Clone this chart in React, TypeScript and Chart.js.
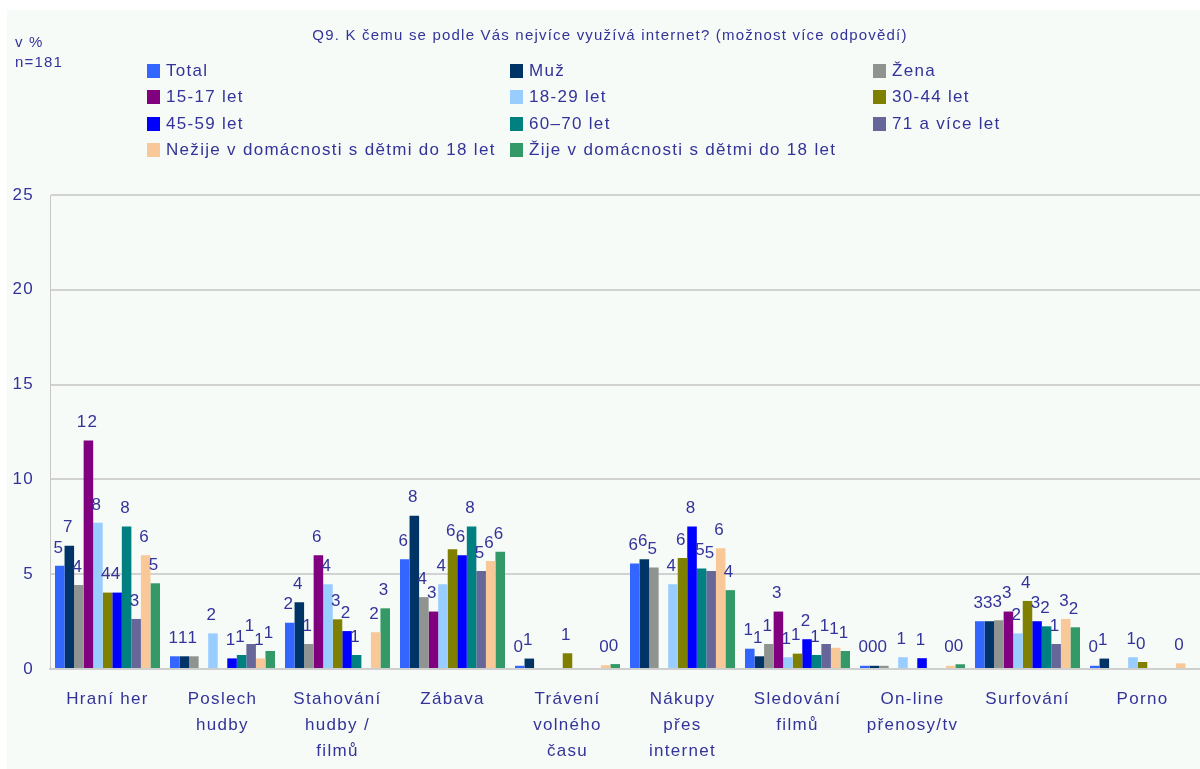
import React, { useEffect, useRef } from "react";
import { Chart, registerables } from "chart.js";

Chart.register(...registerables);

const categories: string[][] = [
  ["Hraní her"],
  ["Poslech", "hudby"],
  ["Stahování", "hudby /", "filmů"],
  ["Zábava"],
  ["Trávení", "volného", "času"],
  ["Nákupy", "přes", "internet"],
  ["Sledování", "filmů"],
  ["On-line", "přenosy/tv"],
  ["Surfování"],
  ["Porno"],
];

const seriesNames = [
  "Total",
  "Muž",
  "Žena",
  "15-17 let",
  "18-29 let",
  "30-44 let",
  "45-59 let",
  "60–70 let",
  "71 a více let",
  "Nežije v domácnosti s dětmi do 18 let",
  "Žije v domácnosti s dětmi do 18 let",
];

const seriesColors = [
  "#3366FF",
  "#003366",
  "#8F9490",
  "#800080",
  "#99CCFF",
  "#808000",
  "#0000FF",
  "#008080",
  "#666699",
  "#F8C898",
  "#339966",
];

const total = [5.44, 0.67, 2.44, 5.79, 0.17, 5.56, 1.07, 0.17, 2.52, 0.17];
const muz = [6.5, 0.67, 3.52, 8.08, 0.55, 5.79, 0.67, 0.17, 2.52, 0.55];
const zena = [4.43, 0.67, 1.32, 3.79, null, 5.35, 1.32, 0.17, 2.57, null];
const age15_17 = [12.05, null, 6.0, 3.03, null, null, 3.03, null, 3.03, null];
const age18_29 = [7.71, 1.88, 4.47, 4.47, null, 4.47, 0.62, 0.62, 1.88, 0.62];
const age30_44 = [4.03, null, 2.62, 6.32, 0.83, 5.86, 0.81, null, 3.59, 0.37];
const age45_59 = [4.03, 0.56, 2.0, 6.0, null, 7.52, 1.57, 0.57, 2.52, null];
const age60_70 = [7.51, 0.74, 0.74, 7.52, null, 5.3, 0.74, null, 2.25, null];
const age71 = [2.64, 1.32, null, 5.17, null, 5.17, 1.32, null, 1.32, null];
const noKids = [6.0, 0.56, 1.94, 5.7, 0.2, 6.37, 1.12, 0.17, 2.64, 0.3];
const withKids = [4.52, 0.95, 3.2, 6.18, 0.26, 4.16, 0.95, 0.25, 2.2, null];

const seriesValues = [
  total,
  muz,
  zena,
  age15_17,
  age18_29,
  age30_44,
  age45_59,
  age60_70,
  age71,
  noKids,
  withKids,
];

const yTicks = [0, 5, 10, 15, 20, 25];

const TEXT = "#333399";
const FONT = '"Liberation Sans", Arial, sans-serif';
const LS = "1.3px";

const letterSpacingPlugin = {
  id: "letterSpacing",
  beforeUpdate(chart: any) {
    chart.ctx.letterSpacing = LS;
  },
  beforeDraw(chart: any) {
    chart.ctx.letterSpacing = LS;
  },
};

const valueLabels = {
  id: "valueLabels",
  afterDatasetsDraw(chart: any) {
    const ctx = chart.ctx;
    ctx.save();
    ctx.font = `17px ${FONT}`;
    ctx.fillStyle = TEXT;
    ctx.textAlign = "center";
    ctx.textBaseline = "middle";
    ctx.letterSpacing = LS;
    chart.data.datasets.forEach((ds: any, i: number) => {
      const meta = chart.getDatasetMeta(i);
      meta.data.forEach((bar: any, j: number) => {
        const v = ds.data[j];
        if (v === null || v === undefined) return;
        ctx.fillText(String(Math.round(v)), bar.x - 1, bar.y - 18);
      });
    });
    ctx.restore();
  },
};

export default function App() {
  const canvasRef = useRef<HTMLCanvasElement | null>(null);

  useEffect(() => {
    if (!canvasRef.current) return;
    const chart = new Chart(canvasRef.current, {
      type: "bar",
      data: {
        labels: categories,
        datasets: seriesNames.map((name, i) => ({
          label: name,
          data: seriesValues[i],
          backgroundColor: seriesColors[i],
          borderWidth: 0,
          categoryPercentage: 0.913,
          barPercentage: 1.0,
        })),
      },
      options: {
        animation: false,
        responsive: false,
        devicePixelRatio: 1,
        layout: { padding: { left: 0, top: 195, right: 0, bottom: 0 } },
        plugins: {
          legend: { display: false },
          title: { display: false },
          tooltip: { enabled: false },
        },
        scales: {
          x: {
            grid: { display: false, drawTicks: false },
            border: { display: true, color: "#CFCFCF", width: 2 },
            ticks: {
              color: TEXT,
              font: { family: FONT, size: 17, lineHeight: 26 / 17 },
              padding: 17,
              maxRotation: 0,
              autoSkip: false,
            },
            afterFit: (s: any) => {
              s.height = 100;
            },
          },
          y: {
            min: 0,
            max: 25,
            afterBuildTicks: (s: any) => {
              s.ticks = yTicks.map((v) => ({ value: v }));
            },
            grid: { color: "#D2D2D2", lineWidth: 2, drawTicks: false },
            border: { display: true, color: "#C8C8C8", width: 1 },
            ticks: {
              color: TEXT,
              font: { family: FONT, size: 17 },
              padding: 16,
            },
            afterFit: (s: any) => {
              s.width = 50;
            },
          },
        },
      },
      plugins: [letterSpacingPlugin, valueLabels],
    });
    return () => chart.destroy();
  }, []);

  const textStyle = (size: number): React.CSSProperties => ({
    position: "absolute",
    fontFamily: FONT,
    fontSize: size,
    color: TEXT,
    letterSpacing: size === 17 ? LS : "1.2px",
    whiteSpace: "nowrap",
    lineHeight: "20px",
  });

  const legendCols = [147, 510, 873];
  const legendRows = [71, 97, 124, 150];

  return (
    <div
      style={{
        position: "absolute",
        left: 0,
        top: 0,
        width: 1200,
        height: 769,
        background: "#FFFFFF",
        overflow: "hidden",
      }}
    >
      <div
        style={{
          position: "absolute",
          left: 7,
          top: 10,
          width: 1193,
          height: 759,
          background: "#F7FBF8",
        }}
      />
      <canvas
        ref={canvasRef}
        width={1200}
        height={769}
        style={{ position: "absolute", left: 0, top: 0, width: 1200, height: 769 }}
      />
      <div style={{ ...textStyle(15), left: 0, width: 1220, textAlign: "center", top: 25 }}>
        Q9. K čemu se podle Vás nejvíce využívá internet? (možnost více odpovědí)
      </div>
      <div style={{ ...textStyle(15), left: 15, top: 32 }}>v %</div>
      <div style={{ ...textStyle(15), left: 15, top: 52 }}>n=181</div>
      {seriesNames.map((name, i) => {
        const x = legendCols[i % 3];
        const cy = legendRows[Math.floor(i / 3)];
        return (
          <React.Fragment key={name}>
            <div
              style={{
                position: "absolute",
                left: x,
                top: cy - 7,
                width: 13,
                height: 14,
                background: seriesColors[i],
              }}
            />
            <div style={{ ...textStyle(17), left: x + 19, top: cy - 10 }}>{name}</div>
          </React.Fragment>
        );
      })}
    </div>
  );
}
